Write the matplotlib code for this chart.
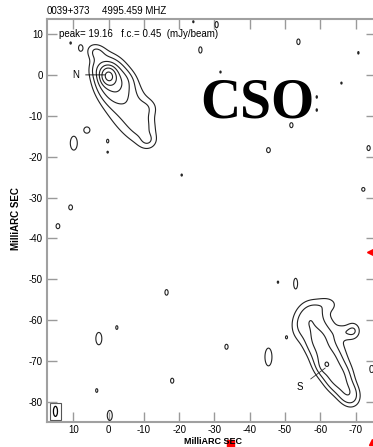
import numpy as np
import matplotlib.pyplot as plt
from matplotlib.patches import Ellipse, Rectangle

plt.rcParams['axes.unicode_minus'] = False
plt.rcParams['font.family'] = ['Liberation Sans', 'DejaVu Sans']

# map header
source = "0039+373"
freq = "4995.459 MHZ"
peak = 19.16
fc = 0.45  # first contour, mJy/beam
levels = fc * np.array([1, 2, 4, 8, 16, 32])

# Gaussian components: x, y (mas), peak, sigma major/minor (mas), angle (deg)
n_x = [0.0, -1.0, -4.5, -9.0, 3.5, -11.0, -11.0, 2.8, -4.0]
n_y = [-0.3, -1.5, -6.5, -12.0, 5.5, -8.0, -16.0, 1.5, -1.5]
n_amp = [15.0, 3.5, 1.3, 0.6, 0.8, 0.4, 0.5, 0.5, 0.5]
n_smaj = [1.3, 3.2, 7.5, 3.0, 1.8, 2.0, 1.5, 1.5, 2.0]
n_smin = [1.2, 2.4, 3.8, 2.0, 1.3, 1.5, 1.2, 1.5, 1.5]
n_pa = [56, 56, 56, 56, 20, 0, 0, 0, 0]

s_x = [-57.0, -59.5, -62.0, -65.0, -68.0, -61.5, -62.5, -62.0, -69.4, -66.8, -54.0,
       -58.5]
s_y = [-60.0, -65.0, -70.0, -74.0, -78.0, -71.0, -64.0, -56.0, -62.5, -63.0, -62.0,
       -57.5]
s_amp = [1.2, 1.7, 2.2, 2.1, 1.5, 1.0, 0.45, 0.4, 0.7, 0.45, 0.4, 0.35]
s_smaj = [2.5, 2.5, 2.5, 2.5, 2.2, 1.0, 8.0, 2.0, 1.3, 1.8, 2.5, 2.0]
s_smin = [2.4, 2.4, 2.3, 2.2, 1.8, 1.0, 5.0, 1.2, 1.3, 1.0, 2.0, 1.5]
s_pa = [60, 60, 55, 50, 45, 0, 60, 0, 0, 0, 90, 0]

# faint noise islands just above the first contour
z_x = [9.9, 6.2, 0.3, 0.3, 10.8, 14.4, 2.8, -2.3, 3.4, -0.3, -18.0, -16.4, -33.4,
       -45.3, -50.4, -53.0, -48.0, -45.3, -53.8, -26.0, -30.6, -31.7, -24.0,
       -70.8, -66.0, -59.0, -59.0, -51.8, -73.7, -72.2, -20.7, 10.8, 8.0]
z_y = [-16.7, -13.5, -16.2, -18.9, -32.4, -37.0, -64.5, -61.8, -77.2, -83.3, -74.8,
       -53.2, -66.5, -69.0, -64.2, -51.0, -50.7, -18.4, 8.1, 6.1, 12.3, 0.7, 13.0,
       5.4, -2.0, -5.4, -8.6, -12.3, -17.9, -28.0, -24.5, 7.8, 6.6]
z_amp = [0.7, 0.7, 0.6, 0.55, 0.6, 0.6, 0.7, 0.6, 0.6, 0.7, 0.6, 0.6, 0.6,
         0.7, 0.55, 0.6, 0.55, 0.6, 0.6, 0.6, 0.6, 0.55, 0.55,
         0.55, 0.55, 0.55, 0.55, 0.6, 0.6, 0.6, 0.55, 0.55, 0.6]
z_sx = [1.05, 0.9, 0.35, 0.3, 0.7, 0.7, 0.9, 0.4, 0.4, 0.75, 0.6, 0.6, 0.6,
        1.05, 0.3, 0.6, 0.3, 0.7, 0.6, 0.6, 0.6, 0.3, 0.3,
        0.3, 0.3, 0.3, 0.3, 0.6, 0.6, 0.6, 0.3, 0.3, 0.6]
z_sy = [1.8, 0.8, 0.5, 0.35, 0.8, 0.8, 1.6, 0.6, 0.6, 1.3, 0.8, 0.9, 0.8,
        2.3, 0.4, 1.4, 0.4, 0.8, 0.9, 1.0, 1.0, 0.4, 0.4,
        0.5, 0.4, 0.5, 0.5, 0.8, 0.8, 0.6, 0.4, 0.4, 0.8]

# restoring beam
beam_x, beam_y, beam_w, beam_h = 15.1, -82.3, 1.15, 2.45


def gauss_map(X, Y, xs, ys, amps, smaj, smin, pa):
    Z = np.zeros_like(X)
    for x0, y0, a, s1, s2, p in zip(xs, ys, amps, smaj, smin, pa):
        t = np.radians(p)
        dx = X - x0
        dy = Y - y0
        u = dx * np.cos(t) + dy * np.sin(t)
        v = -dx * np.sin(t) + dy * np.cos(t)
        Z += a * np.exp(-0.5 * ((u / s1) ** 2 + (v / s2) ** 2))
    return Z


xg = np.arange(18, -76.5, -0.12)
yg = np.arange(-85.5, 14.5, 0.12)
X, Y = np.meshgrid(xg, yg)
Z = gauss_map(X, Y, n_x, n_y, n_amp, n_smaj, n_smin, n_pa)
Z += gauss_map(X, Y, s_x, s_y, s_amp, s_smaj, s_smin, s_pa)
Z += gauss_map(X, Y, z_x, z_y, z_amp, z_sx, z_sy, [0] * len(z_x))

fig = plt.figure(figsize=(3.73, 4.47), dpi=100)
ax = fig.add_axes([47 / 373, 25 / 447, 329 / 373, 403 / 447])
ax.contour(X, Y, Z, levels=levels, colors='#222222', linewidths=0.8)

ax.set_xlim(17.5, -75.8)
ax.set_ylim(-84.9, 13.67)
ax.set_xticks(np.arange(10, -71, -10))
ax.set_yticks(np.arange(10, -81, -10))
ax.tick_params(direction='in', length=7, width=1, color='#9a9a9a',
               top=True, right=True, labelsize=7, pad=3)
ax.tick_params(axis='x', pad=2)
for sp in ax.spines.values():
    sp.set_color('#a0a0a0')
    sp.set_linewidth(1.5)

# beam in its box
ax.add_patch(Rectangle((16.7, -84.4), -3.2, 4.1, fill=False, ec='#555555', lw=0.8))
ax.add_patch(Ellipse((beam_x, beam_y), beam_w, beam_h, fill=False, ec='k', lw=0.9))

# component labels
ax.annotate('N', xy=(1.1, 0), xytext=(9.5, 0), fontsize=7, va='center', ha='center',
            arrowprops=dict(arrowstyle='-', color='k', lw=0.6, shrinkA=3, shrinkB=0))
ax.annotate('S', xy=(-61.4, -71.7), xytext=(-54.3, -76.3), fontsize=7, va='center',
            ha='center',
            arrowprops=dict(arrowstyle='-', color='#333333', lw=0.6, shrinkA=4, shrinkB=0))

ax.text(14.0, 10, 'peak= %.2f   f.c.= %.2f  (mJy/beam)' % (peak, fc), fontsize=7,
        va='center', ha='left')

fig.text(47 / 373, 1 - 11 / 447, source, fontsize=7, va='center', ha='left')
fig.text(102 / 373, 1 - 11 / 447, freq, fontsize=7, va='center', ha='left')
fig.text(213 / 373, 1 - 442 / 447, 'MilliARC SEC', fontsize=6.5, va='center',
         ha='center', fontweight='bold')
fig.text(16 / 373, 1 - 219 / 447, 'MilliARC SEC', fontsize=7, va='center', ha='center',
         rotation=90, fontweight='bold')

fig.text(200 / 373, 1 - 118 / 447, 'CSO', fontsize=40, fontweight='bold',
         family=['Liberation Serif', 'DejaVu Serif'], va='baseline', ha='left')
fig.text(371 / 373, 1 - 370 / 447, '0', fontsize=7, va='center', ha='center')

# red slide markers at the edges
fig.patches.append(Rectangle((227 / 373, 0), 7 / 373, 7 / 447, color='red',
                             transform=fig.transFigure, figure=fig))
fig.lines.append(plt.Line2D([370 / 373], [1 - 252 / 447], marker='<', color='red',
                            markersize=5, transform=fig.transFigure, figure=fig))
fig.lines.append(plt.Line2D([372 / 373], [1 - 442 / 447], marker='^', color='red',
                            markersize=5, transform=fig.transFigure, figure=fig))

fig.savefig('out.png', dpi=100)
